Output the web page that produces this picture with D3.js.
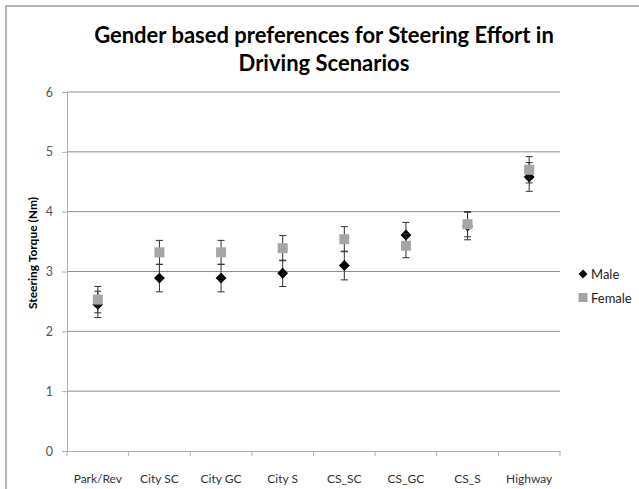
<!DOCTYPE html>
<html>
<head>
<meta charset="utf-8">
<script src="https://cdn.jsdelivr.net/npm/d3@7"></script>
<style>
  body { margin: 0; background: #fff; }
  svg text { font-family: Lato, "Open Sans", sans-serif; }
</style>
</head>
<body>
<div id="chart"></div>
<script>
// scenarios on the x axis
const categories = ["Park/Rev", "City SC", "City GC", "City S", "CS_SC", "CS_GC", "CS_S", "Highway"];
// mean steering torque (Nm)
const maleValues = [2.45, 2.89, 2.89, 2.97, 3.10, 3.61, 3.76, 4.58];
const femaleValues = [2.53, 3.32, 3.32, 3.39, 3.54, 3.43, 3.79, 4.70];
// error bar half widths
const maleErr = [0.22, 0.23, 0.23, 0.22, 0.24, 0.21, 0.23, 0.24];
const femaleErr = [0.22, 0.20, 0.20, 0.21, 0.21, 0.20, 0.21, 0.22];
const yTicks = [0, 1, 2, 3, 4, 5, 6];

const W = 639, H = 489;
const margin = {top: 92, right: 79, bottom: 38, left: 67};
const width = W - margin.left - margin.right;
const height = H - margin.top - margin.bottom;

const svg = d3.select("#chart").append("svg")
    .attr("width", W)
    .attr("height", H);

// outer frame (only top and left visible)
svg.append("rect")
    .attr("x", 6).attr("y", 6)
    .attr("width", W + 20).attr("height", H + 20)
    .attr("fill", "none")
    .attr("stroke", "#9a9a9a")
    .attr("stroke-width", 1.5);

// title
const title = svg.append("text")
    .attr("text-anchor", "middle")
    .attr("font-size", 22)
    .attr("font-weight", "bold")
    .attr("fill", "#000");
title.append("tspan").attr("x", 324).attr("y", 43).text("Gender based preferences for Steering Effort in");
title.append("tspan").attr("x", 324).attr("y", 71).text("Driving Scenarios");

const g = svg.append("g")
    .attr("transform", `translate(${margin.left},${margin.top})`);

const x = d3.scaleBand()
    .domain(categories)
    .range([0, width]);

const y = d3.scaleLinear()
    .domain([0, 6])
    .range([height, 0]);

// gridlines
g.append("g")
    .selectAll("line")
    .data(yTicks.filter(d => d > 0))
    .join("line")
    .attr("x1", 0).attr("x2", width)
    .attr("y1", d => y(d)).attr("y2", d => y(d))
    .attr("stroke", "#8e8e8e")
    .attr("stroke-width", 1);

// y axis
const yAxis = g.append("g")
    .call(d3.axisLeft(y).tickValues(yTicks).tickSize(5).tickPadding(9).tickFormat(d3.format("d")));
yAxis.select(".domain").attr("stroke", "#b0b0b0");
yAxis.selectAll(".tick line").attr("stroke", "#b0b0b0");
yAxis.selectAll(".tick text").attr("font-size", 12.5).attr("fill", "#555");

// x axis with ticks on band edges
const xAxis = g.append("g")
    .attr("transform", `translate(0,${height})`)
    .call(d3.axisBottom(x).tickSize(0).tickPadding(23));
xAxis.select(".domain").attr("stroke", "#b0b0b0");
xAxis.selectAll(".tick text").attr("font-size", 12).attr("fill", "#333");
xAxis.selectAll(".edge")
    .data(d3.range(categories.length + 1))
    .join("line")
    .attr("class", "edge")
    .attr("x1", i => i * x.bandwidth()).attr("x2", i => i * x.bandwidth())
    .attr("y1", 0).attr("y2", 5)
    .attr("stroke", "#b0b0b0");

// y axis title
svg.append("text")
    .attr("transform", `translate(37,253) rotate(-90)`)
    .attr("text-anchor", "middle")
    .attr("font-size", 12)
    .attr("font-weight", "bold")
    .attr("fill", "#000")
    .text("Steering Torque (Nm)");

const cx = d => x(d) + x.bandwidth() / 2;

function drawErrors(values, errs) {
    const eg = g.append("g").attr("stroke", "#333").attr("stroke-width", 1);
    categories.forEach((c, i) => {
        const lo = values[i] - errs[i], hi = values[i] + errs[i];
        eg.append("line").attr("x1", cx(c)).attr("x2", cx(c)).attr("y1", y(lo)).attr("y2", y(hi));
        [lo, hi].forEach(v => {
            eg.append("line").attr("x1", cx(c) - 3.5).attr("x2", cx(c) + 3.5)
                .attr("y1", y(v)).attr("y2", y(v));
        });
    });
}

// male first, then female on top
drawErrors(maleValues, maleErr);
g.append("g").selectAll("path")
    .data(categories)
    .join("path")
    .attr("d", d3.symbol(d3.symbolDiamond2, 75))
    .attr("transform", (d, i) => `translate(${cx(d)},${y(maleValues[i])})`)
    .attr("fill", "#000");

drawErrors(femaleValues, femaleErr);
g.append("g").selectAll("rect")
    .data(categories)
    .join("rect")
    .attr("x", d => cx(d) - 5)
    .attr("y", (d, i) => y(femaleValues[i]) - 5)
    .attr("width", 10).attr("height", 10)
    .attr("fill", "#a6a6a6");

// legend
const legend = svg.append("g").attr("transform", "translate(583,274)");
legend.append("path")
    .attr("d", d3.symbol(d3.symbolDiamond2, 50))
    .attr("fill", "#000");
legend.append("text").attr("x", 8).attr("y", 4.5).attr("font-size", 13).attr("fill", "#222").text("Male");
legend.append("rect").attr("x", -4.5).attr("y", 19).attr("width", 9).attr("height", 9).attr("fill", "#a6a6a6");
legend.append("text").attr("x", 8).attr("y", 28.5).attr("font-size", 13).attr("fill", "#222").text("Female");
</script>
</body>
</html>
